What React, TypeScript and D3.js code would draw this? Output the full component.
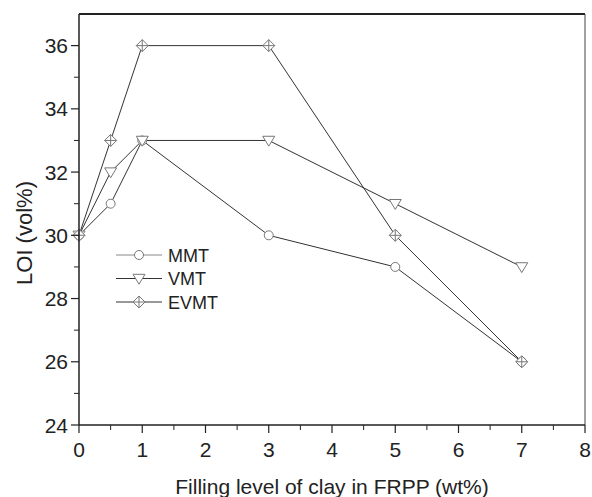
import React from "react";
import * as d3 from "d3";

const xValues = [0, 0.5, 1, 3, 5, 7];
const mmt = [30, 31, 33, 30, 29, 26];
const vmt = [30, 32, 33, 33, 31, 29];
const evmt = [30, 33, 36, 36, 30, 26];
const seriesNames = ["MMT", "VMT", "EVMT"];
const xTicks = [0, 1, 2, 3, 4, 5, 6, 7, 8];
const yTicks = [24, 26, 28, 30, 32, 34, 36];

const W = 592, H = 497;
const L = 79, R = 585, T = 14, B = 425;
const FONT = "'Liberation Sans', Arial, sans-serif";

function Marker({ type, x, y }: { type: string; x: number; y: number }) {
  const st = { fill: "white", stroke: "#777", strokeWidth: 1 };
  if (type === "MMT") return <circle cx={x} cy={y} r={4.5} {...st} />;
  if (type === "VMT") {
    const s = 6;
    return <path d={`M${x - s},${y - s * 0.7}L${x + s},${y - s * 0.7}L${x},${y + s * 0.95}Z`} {...st} />;
  }
  const s = 6;
  return (
    <g>
      <path d={`M${x},${y - s}L${x + s},${y}L${x},${y + s}L${x - s},${y}Z`} {...st} />
      <path d={`M${x},${y - s}V${y + s}M${x - s},${y}H${x + s}`} stroke="#777" strokeWidth={1} />
    </g>
  );
}

export default function App() {
  const x = d3.scaleLinear().domain([0, 8]).range([L, R]);
  const y = d3.scaleLinear().domain([24, 37]).range([B, T]);
  const data = [mmt, vmt, evmt];
  const line = d3.line<number>().x((_, i) => x(xValues[i])).y((d) => y(d));
  const xMinor = d3.range(0.5, 8, 1);
  const yMinor = d3.range(25, 37, 2);
  return (
    <svg width={W} height={H} style={{ position: "absolute", left: 0, top: 0 }}>
      <rect width={W} height={H} fill="white" />
      {data.map((s, k) => (
        <path key={k} d={line(s) || ""} fill="none" stroke="#333" strokeWidth={1} />
      ))}
      {data.map((s, k) =>
        s.map((v, i) => <Marker key={k + "-" + i} type={seriesNames[k]} x={x(xValues[i])} y={y(v)} />)
      )}
      <line x1={L} x2={R} y1={T} y2={T} stroke="#222" strokeWidth={2} />
      <line x1={R} x2={R} y1={T} y2={B} stroke="#444" strokeWidth={1} />
      <line x1={L} x2={L} y1={T} y2={B} stroke="#222" strokeWidth={1.5} />
      <line x1={L} x2={R} y1={B} y2={B} stroke="#222" strokeWidth={1.5} />
      {xTicks.map((t) => (
        <g key={"xt" + t}>
          <line x1={x(t)} x2={x(t)} y1={B} y2={B + 8} stroke="#222" strokeWidth={1.2} />
          <text x={x(t)} y={457} textAnchor="middle" fontSize={21} fontFamily={FONT} fill="#222">{t}</text>
        </g>
      ))}
      {xMinor.map((t) => (
        <line key={"xm" + t} x1={x(t)} x2={x(t)} y1={B} y2={B + 5} stroke="#222" strokeWidth={1} />
      ))}
      {yTicks.map((t) => (
        <g key={"yt" + t}>
          <line x1={L - 8} x2={L} y1={y(t)} y2={y(t)} stroke="#222" strokeWidth={1.2} />
          <text x={L - 11} y={y(t) + 7.5} textAnchor="end" fontSize={21} fontFamily={FONT} fill="#222">{t}</text>
        </g>
      ))}
      {yMinor.map((t) => (
        <line key={"ym" + t} x1={L - 5} x2={L} y1={y(t)} y2={y(t)} stroke="#222" strokeWidth={1} />
      ))}
      <text x={332} y={494} textAnchor="middle" fontSize={21} fontFamily={FONT} fill="#222">Filling level of clay in FRPP (wt%)</text>
      <text transform={`translate(32,233) rotate(-90)`} textAnchor="middle" fontSize={22} fontFamily={FONT} fill="#222">LOI (vol%)</text>
      {seriesNames.map((n, k) => {
        const ly = 255 + k * 23.5;
        return (
          <g key={n}>
            <line x1={116} x2={162} y1={ly} y2={ly} stroke={k === 0 ? "#888" : "#333"} strokeWidth={1} />
            <Marker type={n} x={139} y={ly} />
            <text x={168} y={ly + 6.5} fontSize={18} fontFamily={FONT} fill="#222">{n}</text>
          </g>
        );
      })}
    </svg>
  );
}
